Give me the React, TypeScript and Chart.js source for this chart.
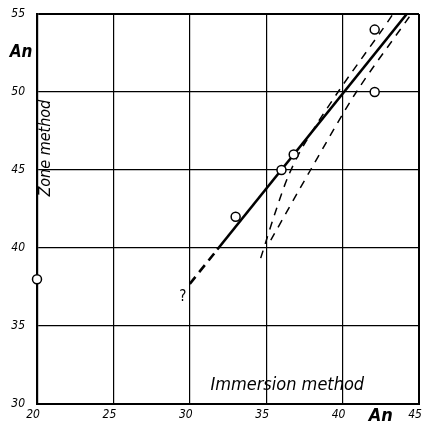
import { useEffect, useRef } from "react";
import { Chart, registerables } from "chart.js";

Chart.register(...registerables);

// ---- data ----
const xTickValues = [20, 25, 30, 35, 40, 45];
const yTickValues = [30, 35, 40, 45, 50, 55];

const pointX = [20, 33, 36, 36.8, 42.1, 42.1];
const pointY = [38, 42, 45, 46, 54, 50];

const fitX = [31.8, 44.2];
const fitY = [39.9, 55.0];
const fitExtX = [30, 31.8];
const fitExtY = [37.7, 39.9];

const curveAX = [34.64, 35.5, 36.4, 37.4, 39.7, 42.6, 43.3];
const curveAY = [39.35, 42, 44.5, 46.5, 50, 54, 55];
const curveBX = [35.3, 37.9, 40.9, 44.5];
const curveBY = [40.5, 45, 50, 55];

const labelTexts = ["An", "Zone method", "Immersion method", "An", "?"];

const FAMILY = '"DejaVu Sans Condensed", "DejaVu Sans", sans-serif';

const zip = (xs: number[], ys: number[]) => xs.map((x, i) => ({ x, y: ys[i] }));

const notesPlugin = {
  id: "notes",
  afterDatasetsDraw(chart: any) {
    const { ctx, scales } = chart;
    const sx = scales.x;
    const sy = scales.y;
    const notes = [
      { text: labelTexts[0], x: 18.96, y: 52.5, font: `italic bold 17px ${FAMILY}`, rot: 0 },
      { text: labelTexts[1], x: 20.55, y: 46.4, font: `italic 16px ${FAMILY}`, rot: -Math.PI / 2 },
      { text: labelTexts[2], x: 36.38, y: 31.2, font: `italic 18px ${FAMILY}`, rot: 0 },
      { text: labelTexts[3], x: 42.5, y: 29.2, font: `italic bold 18px ${FAMILY}`, rot: 0 },
      { text: labelTexts[4], x: 29.55, y: 36.86, font: `15px ${FAMILY}`, rot: 0 },
    ];
    ctx.save();
    ctx.fillStyle = "#000";
    ctx.textAlign = "center";
    ctx.textBaseline = "middle";
    for (const n of notes) {
      ctx.save();
      ctx.translate(sx.getPixelForValue(n.x), sy.getPixelForValue(n.y));
      ctx.rotate(n.rot);
      ctx.font = n.font;
      ctx.fillText(n.text, 0, 0);
      ctx.restore();
    }
    ctx.restore();
  },
};

export default function App() {
  const ref = useRef<HTMLCanvasElement | null>(null);
  useEffect(() => {
    if (!ref.current) return;
    const edgeW = (v: number, a: number, b: number) => (v === a || v === b ? 2 : 1.2);
    const chart = new Chart(ref.current, {
      type: "scatter",
      data: {
        datasets: [
          {
            data: zip(pointX, pointY),
            showLine: false,
            pointRadius: 4.5,
            pointBorderWidth: 1.5,
            pointBorderColor: "#000",
            pointBackgroundColor: "#fff",
            clip: false,
            order: 0,
          } as any,
          {
            data: zip(fitX, fitY),
            showLine: true,
            borderColor: "#000",
            borderWidth: 2.6,
            pointRadius: 0,
            order: 1,
          },
          {
            data: zip(fitExtX, fitExtY),
            showLine: true,
            borderColor: "#000",
            borderWidth: 2.6,
            borderDash: [9, 6],
            pointRadius: 0,
            order: 1,
          },
          {
            data: zip(curveAX, curveAY),
            showLine: true,
            borderColor: "#000",
            borderWidth: 1.5,
            borderDash: [8, 7],
            tension: 0.3,
            pointRadius: 0,
            clip: false,
            order: 1,
          } as any,
          {
            data: zip(curveBX, curveBY),
            showLine: true,
            borderColor: "#000",
            borderWidth: 1.5,
            borderDash: [8, 7],
            tension: 0.3,
            pointRadius: 0,
            clip: false,
            order: 1,
          } as any,
        ],
      },
      options: {
        animation: false,
        responsive: false,
        devicePixelRatio: 1,
        layout: { padding: { left: 0, right: 0, top: 14, bottom: 0 } },
        plugins: { legend: { display: false }, tooltip: { enabled: false } },
        scales: {
          x: {
            type: "linear",
            min: 20,
            max: 45,
            afterFit: (s: any) => {
              s.height = 17;
              s.paddingLeft = 0;
              s.paddingRight = 0;
            },
            afterBuildTicks: (s: any) => {
              s.ticks = xTickValues.map((v) => ({ value: v }));
            },
            ticks: {
              color: "#000",
              font: { family: FAMILY, size: 12, style: "italic" },
              padding: 4,
              labelOffset: -4,
              maxRotation: 0,
              autoSkip: false,
            },
            grid: {
              color: "#000",
              lineWidth: (c: any) => edgeW(c.tick?.value, 20, 45),
              drawTicks: false,
            },
            border: { color: "#000", width: 2 },
          },
          y: {
            type: "linear",
            min: 30,
            max: 55,
            afterFit: (s: any) => {
              s.width = 37;
              s.paddingTop = 0;
              s.paddingBottom = 0;
            },
            afterBuildTicks: (s: any) => {
              s.ticks = yTickValues.map((v) => ({ value: v }));
            },
            ticks: {
              color: "#000",
              font: { family: FAMILY, size: 12, style: "italic" },
              padding: 12,
              autoSkip: false,
            },
            grid: {
              color: "#000",
              lineWidth: (c: any) => edgeW(c.tick?.value, 30, 55),
              drawTicks: false,
            },
            border: { color: "#000", width: 2.2 },
          },
        },
      },
      plugins: [notesPlugin],
    });
    return () => chart.destroy();
  }, []);
  return (
    <div style={{ position: "absolute", left: 0, top: 0, width: 425, height: 421, background: "#fff" }}>
      <canvas ref={ref} width={425} height={421} />
    </div>
  );
}
